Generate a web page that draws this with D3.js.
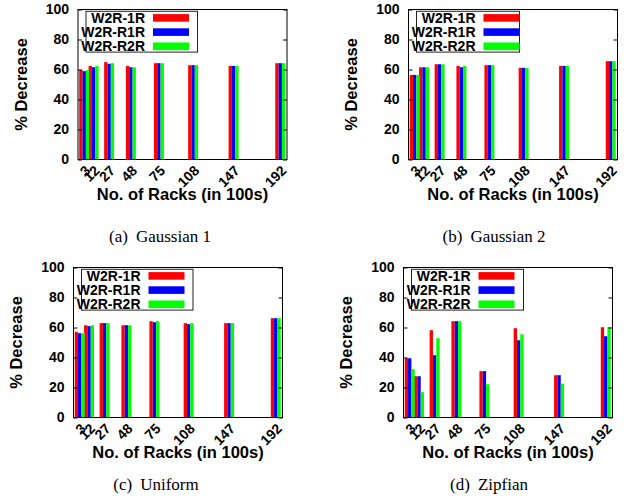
<!DOCTYPE html>
<html>
<head>
<meta charset="utf-8">
<script src="https://d3js.org/d3.v7.min.js"></script>
<style>
  body { margin: 0; background: #fff; }
  svg text { font-family: "Liberation Sans", Arial, sans-serif; font-weight: bold; }
  svg text.caption { font-family: "Liberation Serif", "Times New Roman", serif; font-weight: normal; }
</style>
</head>
<body>
<div id="chart"></div>
<script>
// Categories (number of racks, in 100s) and series
var racks = [3, 12, 27, 48, 75, 108, 147, 192];
var seriesNames = ["W2R-1R", "W2R-R1R", "W2R-R2R"];
var seriesColors = ["#ff0000", "#0000ff", "#00ff00"];
var yTicks = [0, 20, 40, 60, 80, 100];

// % decrease
var gauss1_1R  = [59.7, 62.4, 64.9, 62.4, 64.2, 62.9, 62.4, 64.2];
var gauss1_R1R = [58.9, 61.5, 63.8, 61.5, 64.2, 62.9, 62.4, 64.2];
var gauss1_R2R = [59.5, 62.4, 64.2, 61.5, 64.2, 62.9, 62.4, 64.2];

var gauss2_1R  = [56.4, 61.5, 63.5, 62.4, 62.9, 61.1, 62.4, 65.5];
var gauss2_R1R = [56.4, 61.5, 63.5, 61.5, 62.9, 61.1, 62.4, 65.5];
var gauss2_R2R = [56.4, 61.5, 63.5, 62.4, 62.9, 61.0, 62.4, 65.5];

var uniform_1R  = [57.1, 61.5, 62.9, 61.5, 64.2, 62.9, 62.9, 66.2];
var uniform_R1R = [56.2, 60.9, 62.9, 61.5, 63.5, 62.2, 62.9, 66.2];
var uniform_R2R = [56.2, 61.5, 62.9, 61.5, 64.2, 62.9, 62.9, 66.2];

var zipf_1R  = [39.5, 27.5, 58.2, 64.2, 30.9, 59.5, 28.2, 60.2];
var zipf_R1R = [39.5, 27.5, 41.5, 64.2, 30.9, 51.5, 28.2, 54.2];
var zipf_R2R = [32.2, 16.9, 52.9, 64.2, 22.2, 55.5, 22.6, 60.2];

var captionLetters = ["(a)", "(b)", "(c)", "(d)"];
var captionNames = ["Gaussian 1", "Gaussian 2", "Uniform", "Zipfian"];

// Panel layout
var panels = [
    { series: [gauss1_1R, gauss1_R1R, gauss1_R2R], left: 78, top: 9.5, legendRight: 119.5, capX: 160, capY: 242 },
    { series: [gauss2_1R, gauss2_R1R, gauss2_R2R], left: 408.5, top: 9.5, legendRight: 111, capX: 494, capY: 242 },
    { series: [uniform_1R, uniform_R1R, uniform_R2R], left: 73.5, top: 267.5, legendRight: 119.5, capX: 156, capY: 490 },
    { series: [zipf_1R, zipf_R1R, zipf_R2R], left: 403.5, top: 267.5, legendRight: 120, capX: 489, capY: 490 }
];

var width = 209, height = 150;
var barW = 3.2; // in x units

var svg = d3.select("#chart").append("svg")
    .attr("width", 634)
    .attr("height", 499);

panels.forEach(function (p, pi) {
    var g = svg.append("g")
        .attr("transform", "translate(" + p.left + "," + p.top + ")");

    var x = d3.scaleLinear().domain([-3, 198.5]).range([0, width]);
    var y = d3.scaleLinear().domain([0, 100]).range([height, 0]);

    // Bars
    p.series.forEach(function (vals, si) {
        g.selectAll(".bar" + si)
            .data(vals)
            .enter()
            .append("rect")
            .attr("x", function (d, i) { return x(racks[i] + (si - 1.5) * barW); })
            .attr("y", function (d) { return y(d); })
            .attr("width", x(barW) - x(0))
            .attr("height", function (d) { return height - y(d); })
            .attr("fill", seriesColors[si]);
    });

    // Y ticks, inward on both sides
    g.append("g")
        .call(d3.axisLeft(y).tickValues(yTicks).tickSize(-4).tickPadding(9))
        .call(function (a) { a.select(".domain").remove(); })
        .selectAll("text")
        .attr("font-size", 14)
        .attr("fill", "#000");
    g.append("g")
        .attr("transform", "translate(" + width + ",0)")
        .call(d3.axisRight(y).tickValues(yTicks).tickSize(-4).tickFormat(""))
        .call(function (a) { a.select(".domain").remove(); });

    // X tick labels, rotated
    g.selectAll(".xlab")
        .data(racks)
        .enter()
        .append("text")
        .attr("text-anchor", "end")
        .attr("font-size", 14)
        .attr("transform", function (d) {
            return "translate(" + (x(d) + 7) + "," + (height + 12) + ") rotate(-45)";
        })
        .text(function (d) { return d; });

    // Frame
    g.append("rect")
        .attr("width", width)
        .attr("height", height)
        .attr("fill", "none")
        .attr("stroke", "#000")
        .attr("stroke-width", 1);

    // Axis titles
    g.append("text")
        .attr("text-anchor", "middle")
        .attr("font-size", 16.5)
        .attr("x", width / 2)
        .attr("y", height + 40.5)
        .text("No. of Racks (in 100s)");
    g.append("text")
        .attr("text-anchor", "middle")
        .attr("font-size", 16.5)
        .attr("dy", "0.35em")
        .attr("transform", "translate(-57," + (height / 2) + ") rotate(-90)")
        .text("% Decrease");

    // Legend
    var lg = g.append("g");
    lg.append("rect")
        .attr("x", 8)
        .attr("y", 1.8)
        .attr("width", p.legendRight - 8)
        .attr("height", 40.8)
        .attr("fill", "#fff")
        .attr("stroke", "#222")
        .attr("stroke-width", 1);
    seriesNames.forEach(function (name, si) {
        var cy = 8.4 + si * 14.2;
        lg.append("text")
            .attr("text-anchor", "end")
            .attr("font-size", 14)
            .attr("x", 67)
            .attr("y", cy + 5)
            .text(name);
        lg.append("rect")
            .attr("x", 75)
            .attr("y", cy - 3.8)
            .attr("width", 36)
            .attr("height", 7.6)
            .attr("fill", seriesColors[si]);
    });

    // Caption
    var cap = svg.append("text")
        .attr("class", "caption")
        .attr("text-anchor", "middle")
        .attr("font-size", 17)
        .attr("x", p.capX)
        .attr("y", p.capY);
    cap.append("tspan").text(captionLetters[pi]);
    cap.append("tspan").attr("dx", 8).text(captionNames[pi]);
});
</script>
</body>
</html>
